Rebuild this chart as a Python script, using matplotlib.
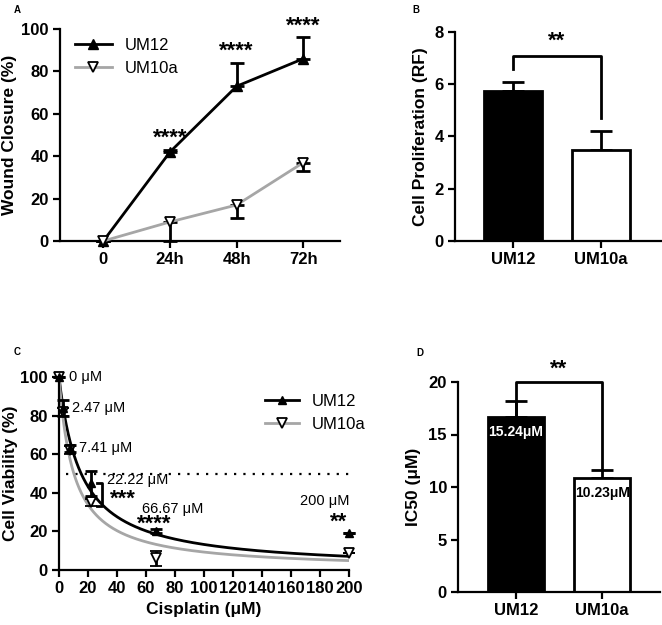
import numpy as np
import matplotlib
matplotlib.use("Agg")
import matplotlib.pyplot as plt
from matplotlib.lines import Line2D

plt.rcParams['font.family'] = ['Liberation Sans', 'DejaVu Sans']

# ---------------- data ----------------
# Panel A: wound closure
time_labels = ["0", "24h", "48h", "72h"]
um12_wound = [0, 42, 73, 86]
um12_wound_err = [0, 1, 11, 10]          # upward
um10a_wound = [0, 9, 17, 37]
um10a_wound_err = [0, 9, 6, 4]           # downward
wound_sig = ["", "****", "****", "****"]

# Panel B: proliferation
groups = ["UM12", "UM10a"]
prolif = [5.75, 3.5]
prolif_err = [0.35, 0.7]

# Panel C: viability
conc = [0, 2.47, 7.41, 22.22, 66.67, 200]
conc_labels = ["0 μM", "2.47 μM", "7.41 μM", "22.22 μM", "66.67 μM", "200 μM"]
um12_via = [100, 84, 63, 45, 20, 19]
um12_via_err = [0, 4, 2, 6.5, 1, 0]
um10a_via = [100, 82, 62, 35, 6, 9]
um10a_via_err = [0, 2, 2, 2, 4, 0]
via_sig = ["", "", "", "***", "****", "**"]
hill = [1.0, 1.0]

# Panel D: IC50
ic50 = [16.7, 10.9]
ic50_err = [1.5, 0.7]
ic50_fit = [15.24, 10.23]
ic50_labels = ["15.24μM", "10.23μM"]

W, H = 662, 625
fig = plt.figure(figsize=(W / 100, H / 100), dpi=100)

def ax_px(l, r, b, t):
    return fig.add_axes([l / W, 1 - b / H, (r - l) / W, (b - t) / H])

LW = 1.6
TICKFS = 12
LABFS = 11.5
STARFS = 16
LEGFS = 12

def style(ax):
    for s in ['top', 'right']:
        ax.spines[s].set_visible(False)
    for s in ['left', 'bottom']:
        ax.spines[s].set_linewidth(LW)
    ax.tick_params(width=LW, length=5, labelsize=TICKFS, pad=3)
    for lab in ax.get_xticklabels() + ax.get_yticklabels():
        lab.set_fontweight('bold')

# ---------------- Panel A ----------------
axA = ax_px(60, 340, 241, 29)
x = np.arange(len(time_labels))
axA.plot(x, um12_wound, color='black', lw=2, marker='^', ms=7, mfc='black', mec='black', clip_on=False, zorder=4, label='UM12')
axA.plot(x, um10a_wound, color='#a6a6a6', lw=2, marker='v', ms=7, mfc='white', mec='black', mew=1.3, clip_on=False, zorder=4, label='UM10a')
axA.errorbar(x, um12_wound, yerr=[np.zeros(4), um12_wound_err], fmt='none', ecolor='black', elinewidth=2, capsize=5, capthick=2, clip_on=False, zorder=3)
axA.errorbar(x, um10a_wound, yerr=[um10a_wound_err, np.zeros(4)], fmt='none', ecolor='black', elinewidth=2, capsize=5, capthick=2, clip_on=False, zorder=3)
for xi, yv, e, s in zip(x, um12_wound, um12_wound_err, wound_sig):
    if s:
        axA.text(xi, yv + e + 0.5, s, ha='center', va='bottom', fontsize=STARFS, fontweight='bold')
axA.set_xlim(-0.65, 3.55)
axA.set_ylim(0, 100)
axA.set_xticks(x)
axA.set_xticklabels(time_labels)
axA.set_yticks(range(0, 101, 20))
axA.set_ylabel("Wound Closure (%)", fontsize=LABFS + 1, fontweight='bold', labelpad=3)
axA.legend(loc='upper left', bbox_to_anchor=(0.0, 1.03), frameon=False, fontsize=LEGFS, handlelength=2.2, labelspacing=0.5)
style(axA)
fig.text(14 / W, 1 - 10 / H, "A", fontsize=7, fontweight='bold', va='center')

# ---------------- Panel B ----------------
axB = ax_px(455, 662, 241, 32)
xb = np.arange(len(groups))
axB.bar(xb, prolif, width=0.66, color=['black', 'white'], edgecolor='black', linewidth=2, zorder=2)
axB.errorbar(xb, prolif, yerr=[np.zeros(2), prolif_err], fmt='none', ecolor='black', elinewidth=2, capsize=8, capthick=2, zorder=1)
axB.plot([0, 0, 1, 1], [6.6, 7.08, 7.08, 4.7], color='black', lw=2, clip_on=False)
axB.text(0.5, 7.25, "**", ha='center', va='bottom', fontsize=STARFS, fontweight='bold')
axB.set_xlim(-0.66, 1.7)
axB.set_ylim(0, 8)
axB.set_xticks(xb)
axB.set_xticklabels(groups)
axB.set_yticks(range(0, 9, 2))
axB.set_ylabel("Cell Proliferation (RF)", fontsize=LABFS + 1, fontweight='bold', labelpad=5)
style(axB)
fig.text(412 / W, 1 - 10 / H, "B", fontsize=7, fontweight='bold', va='center')

# ---------------- Panel C ----------------
axC = ax_px(59, 349, 570, 377)
xs = np.linspace(0, 200, 800)
for ic, h, col in zip(ic50_fit, hill, ['black', '#a6a6a6']):
    axC.plot(xs, 100 / (1 + (xs / ic) ** h), color=col, lw=2, zorder=2)
axC.plot([5, 200], [50, 50], color='black', lw=1.6, ls=(0, (1, 3.2)), zorder=1)
axC.errorbar(conc, um10a_via, yerr=um10a_via_err, fmt='v', ms=7, mfc='white', mec='black', mew=1.3,
             ecolor='black', elinewidth=2, capsize=4, capthick=2, clip_on=False, zorder=4)
axC.errorbar(conc, um12_via, yerr=um12_via_err, fmt='^', ms=6, mfc='black', mec='black',
             ecolor='black', elinewidth=2, capsize=4, capthick=2, clip_on=False, zorder=5)
# bracket at 22.22
axC.plot([26, 29.7, 29.7, 26], [45, 45, 33, 33], color='black', lw=2)
label_pos = [(7, 100), (9, 84), (14, 63), (33, 46.5), (57, 31.5), (200, 36)]
for (tx, ty), s, ha in zip(label_pos, conc_labels, ['left'] * 5 + ['right']):
    axC.text(tx, ty, s, ha=ha, va='center', fontsize=10.5)
sig_pos = [None, None, None, (35, 36.5), (54, 23.5), (193, 25)]
for p, s in zip(sig_pos, via_sig):
    if s:
        axC.text(p[0], p[1], s, ha='left' if p[0] < 150 else 'center', va='center', fontsize=STARFS, fontweight='bold')
axC.set_xlim(0, 200)
axC.set_ylim(0, 100)
axC.set_xticks(range(0, 201, 20))
axC.set_yticks(range(0, 101, 20))
axC.set_xlabel("Cisplatin (μM)", fontsize=LABFS + 1, fontweight='bold', labelpad=4)
axC.set_ylabel("Cell Viability (%)", fontsize=LABFS + 1, fontweight='bold', labelpad=2)
hC = [Line2D([], [], color='black', lw=2, marker='^', ms=6, mfc='black', mec='black'),
      Line2D([], [], color='#a6a6a6', lw=2, marker='v', ms=7, mfc='white', mec='black', mew=1.3)]
axC.legend(hC, groups, loc='upper left', bbox_to_anchor=(0.66, 0.99), frameon=False, fontsize=LEGFS,
           handlelength=2.0, labelspacing=0.5)
style(axC)
fig.text(14 / W, 1 - 352 / H, "C", fontsize=7, fontweight='bold', va='center')

# ---------------- Panel D ----------------
axD = ax_px(458, 660, 592, 382)
axD.bar(xb, ic50, width=0.65, color=['black', 'white'], edgecolor='black', linewidth=2, zorder=2)
axD.errorbar(xb, ic50, yerr=[np.zeros(2), ic50_err], fmt='none', ecolor='black', elinewidth=2, capsize=8, capthick=2, zorder=1)
axD.plot([0, 0, 1, 1], [ic50[0], 20, 20, ic50[1] + ic50_err[1]], color='black', lw=2, clip_on=False, zorder=1)
axD.text(0.5, 20.2, "**", ha='center', va='bottom', fontsize=STARFS, fontweight='bold')
axD.text(0, 15.2, ic50_labels[0], ha='center', va='center', color='white', fontsize=10, fontweight='bold', zorder=5)
axD.text(1, 9.4, ic50_labels[1], ha='center', va='center', color='black', fontsize=10, fontweight='bold', zorder=5)
axD.set_xlim(-0.67, 1.67)
axD.set_ylim(0, 20)
axD.set_xticks(xb)
axD.set_xticklabels(groups)
axD.set_yticks(range(0, 21, 5))
axD.set_ylabel("IC50 (μM)", fontsize=LABFS + 1, fontweight='bold', labelpad=5)
style(axD)
fig.text(416 / W, 1 - 353 / H, "D", fontsize=7, fontweight='bold', va='center')

fig.savefig("out.png", dpi=100)
